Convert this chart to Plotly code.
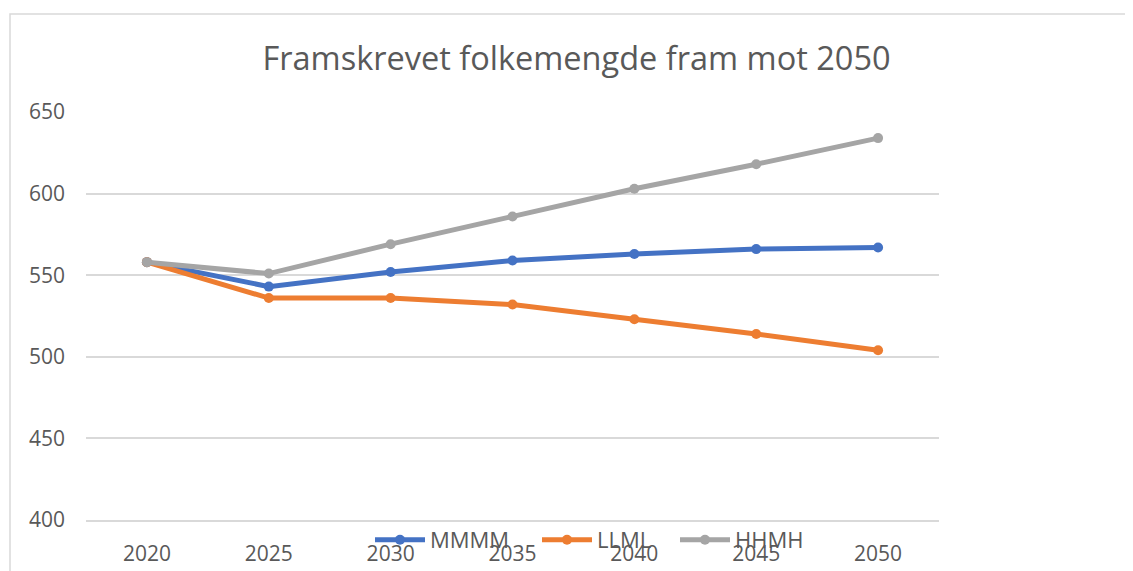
import plotly.graph_objects as go

years = ["2020", "2025", "2030", "2035", "2040", "2045", "2050"]
mmmm = [558, 543, 552, 559, 563, 566, 567]
llml = [558, 536, 536, 532, 523, 514, 504]
hhmh = [558, 551, 569, 586, 603, 618, 634]

series = [("MMMM", mmmm, "#4472C4"), ("LLML", llml, "#ED7D31"), ("HHMH", hhmh, "#A5A5A5")]

FONT = "Open Sans"
TXT = "#595959"

# page body has an 8px margin, so the figure is drawn 8px smaller and offset
W, H = 1125, 563
L, T = 78, 104
R = W - (939 - 8)
B = H - (520 - 8)
ph = H - T - B
pw = W - L - R

legend_names = ["legend", "legend2", "legend3"]
legend_px = [362, 529, 667]

fig = go.Figure()
for (name, vals, col), lg in zip(series, legend_names):
    fig.add_trace(go.Scatter(
        x=years, y=vals, name=name, mode="lines+markers",
        line=dict(color=col, width=5),
        marker=dict(color=col, size=10, symbol="circle"),
        legend=lg,
    ))

legend_common = dict(orientation="h", xanchor="left", y=-20 / ph, yanchor="middle",
                     bgcolor="rgba(0,0,0,0)", font=dict(family=FONT, size=22, color=TXT),
                     itemwidth=50)

fig.update_layout(
    width=W, height=H,
    margin=dict(l=L, r=R, t=T, b=B, autoexpand=False),
    paper_bgcolor="white", plot_bgcolor="white",
    font=dict(family=FONT, color=TXT, size=21),
    title=dict(text="Framskrevet folkemengde fram mot 2050", x=568.5 / W, xref="container",
               xanchor="center", y=1 - 51 / H, yref="container", yanchor="middle",
               font=dict(family=FONT, size=32.5, color=TXT)),
    showlegend=True,
    legend=dict(x=(legend_px[0] - L) / pw, **legend_common),
    legend2=dict(x=(legend_px[1] - L) / pw, **legend_common),
    legend3=dict(x=(legend_px[2] - L) / pw, **legend_common),
    xaxis=dict(type="category", range=[-0.5, 6.5], showgrid=False, showline=True,
               linecolor="#D9D9D9", linewidth=1.5, ticks="", ticklabelstandoff=14,
               tickfont=dict(family=FONT, size=21, color=TXT), fixedrange=True),
    yaxis=dict(range=[400, 650], dtick=50, tick0=400, showgrid=True, gridcolor="#D9D9D9",
               gridwidth=1.5, zeroline=False, showline=False, ticks="", ticklabelstandoff=20,
               tickfont=dict(family=FONT, size=21, color=TXT), fixedrange=True),
    shapes=[dict(type="rect", xref="paper", yref="paper",
                 x0=(2 - L) / pw, x1=(1200 - L) / pw,
                 y0=(512 - 600) / ph, y1=(512 - 6) / ph,
                 line=dict(color="#D9D9D9", width=1.5), fillcolor="rgba(0,0,0,0)", layer="below")],
)

fig.write_html("out.html")
